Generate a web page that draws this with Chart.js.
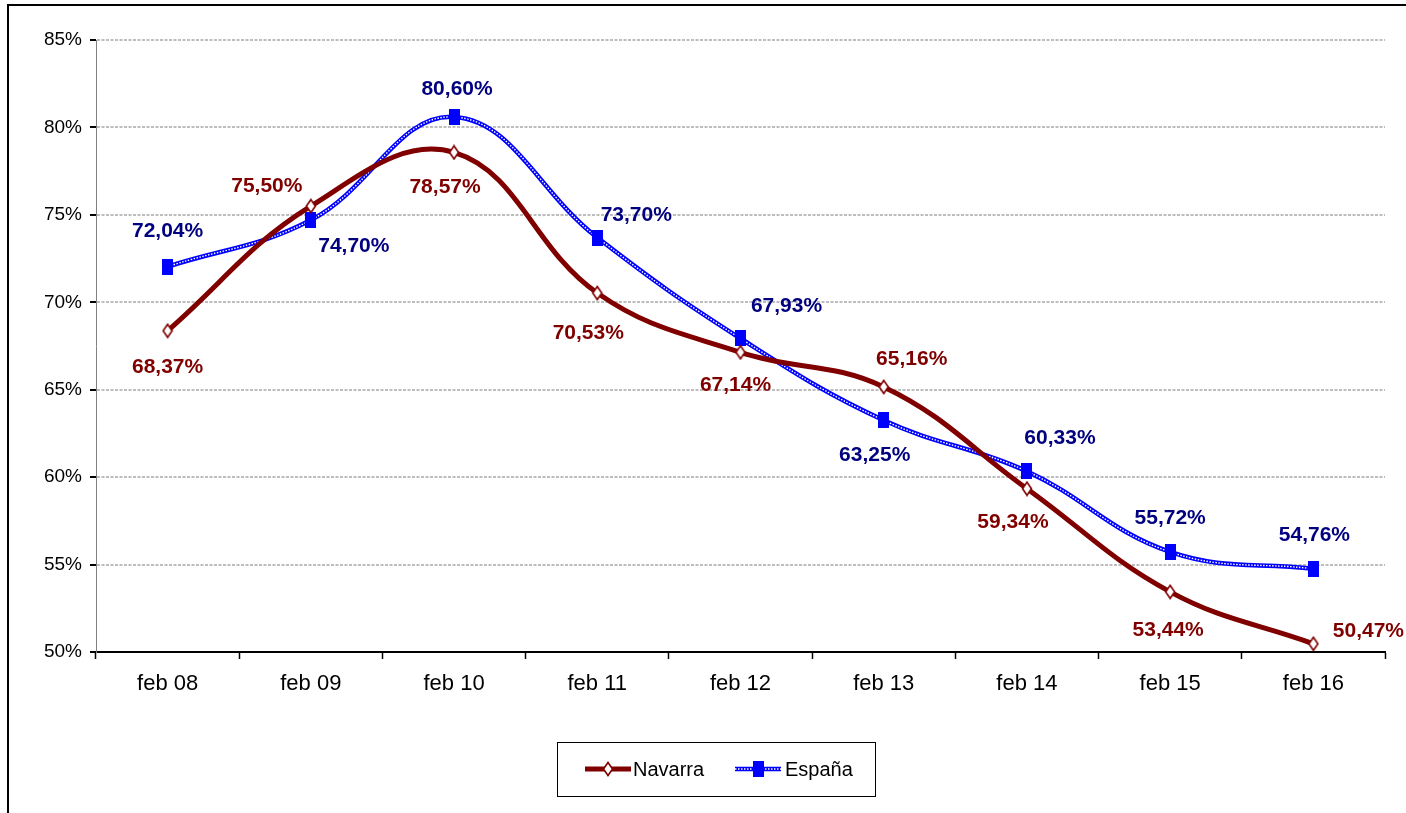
<!DOCTYPE html>
<html>
<head>
<meta charset="utf-8">
<script src="https://cdn.jsdelivr.net/npm/chart.js@4.4.1/dist/chart.umd.min.js"></script>
<style>
  html, body { margin: 0; padding: 0; background: #fff; }
</style>
</head>
<body>
<canvas id="chart" width="1406" height="813"></canvas>
<script>
const categories = ['feb 08', 'feb 09', 'feb 10', 'feb 11', 'feb 12', 'feb 13', 'feb 14', 'feb 15', 'feb 16'];
const navarra = [68.37, 75.50, 78.57, 70.53, 67.14, 65.16, 59.34, 53.44, 50.47];
const espana = [72.04, 74.70, 80.60, 73.70, 67.93, 63.25, 60.33, 55.72, 54.76];
const yTicks = [50, 55, 60, 65, 70, 75, 80, 85];

// where each value label sits relative to its point (px)
const navarraLabelPos = [[0, 36], [-44, -20], [-9, 35], [-9, 40], [-5, 33], [28, -28], [-14, 34], [-2, 38], [55, -13]];
const espanaLabelPos = [[0, -35], [43, 26], [3, -28], [39, -22], [46, -32], [-9, 35], [33, -33], [0, -34], [1, -34]];

const RED = '#800000';
const BLUE = '#0000ff';
const NAVY = '#000080';
const SANS = '"Liberation Sans", Arial, sans-serif';

function makeMarker(w, h, draw) {
  const c = document.createElement('canvas');
  c.width = w; c.height = h;
  draw(c.getContext('2d'), w, h);
  return c;
}

const diamond = makeMarker(12, 16, (g, w, h) => {
  g.beginPath();
  g.moveTo(w / 2, 1.5); g.lineTo(w - 1.5, h / 2); g.lineTo(w / 2, h - 1.5); g.lineTo(1.5, h / 2);
  g.closePath();
  g.fillStyle = '#fff'; g.fill();
  g.lineWidth = 1.6; g.strokeStyle = RED; g.stroke();
});
const square = makeMarker(11, 16, (g, w, h) => {
  g.fillStyle = BLUE; g.fillRect(0, 0, w, h);
});

const fmt = (v) => v.toFixed(2).replace('.', ',') + '%';

const framePlugin = {
  id: 'frame',
  beforeDraw(chart) {
    const ctx = chart.ctx;
    ctx.save();
    ctx.fillStyle = '#fff';
    ctx.fillRect(0, 0, chart.width, chart.height);
    ctx.strokeStyle = '#000';
    ctx.lineWidth = 2;
    ctx.beginPath();
    ctx.moveTo(8, chart.height);
    ctx.lineTo(8, 5);
    ctx.lineTo(chart.width, 5);
    ctx.stroke();
    ctx.restore();
  }
};

// white dotted core on the blue line, then markers back on top
const dottedPlugin = {
  id: 'dotted',
  afterDatasetDraw(chart, args) {
    if (args.index !== 1) return;
    const ctx = chart.ctx;
    const meta = args.meta;
    ctx.save();
    ctx.beginPath();
    meta.dataset.path(ctx);
    ctx.strokeStyle = '#fff';
    ctx.lineWidth = 1.4;
    ctx.setLineDash([1.5, 1.5]);
    ctx.stroke();
    ctx.restore();
    meta.data.forEach((p) => p.draw(ctx, chart.chartArea));
  }
};

const labelPlugin = {
  id: 'valueLabels',
  afterDatasetsDraw(chart) {
    const ctx = chart.ctx;
    const sets = [
      { meta: chart.getDatasetMeta(0), values: navarra, pos: navarraLabelPos, color: RED },
      { meta: chart.getDatasetMeta(1), values: espana, pos: espanaLabelPos, color: NAVY }
    ];
    ctx.save();
    ctx.font = 'bold 21px ' + SANS;
    ctx.textAlign = 'center';
    ctx.textBaseline = 'middle';
    sets.forEach((s) => {
      ctx.fillStyle = s.color;
      s.meta.data.forEach((p, i) => {
        ctx.fillText(fmt(s.values[i]), p.x + s.pos[i][0], p.y + s.pos[i][1]);
      });
    });
    ctx.restore();
  }
};

const legendPlugin = {
  id: 'boxLegend',
  afterDraw(chart) {
    const ctx = chart.ctx;
    const ds = chart.data.datasets;
    const y = 769;
    ctx.save();
    ctx.strokeStyle = '#000';
    ctx.lineWidth = 1;
    ctx.strokeRect(557.5, 742.5, 318, 54);

    // Navarra sample
    ctx.strokeStyle = RED; ctx.lineWidth = 5;
    ctx.beginPath(); ctx.moveTo(585, y); ctx.lineTo(631, y); ctx.stroke();
    ctx.drawImage(diamond, 608 - diamond.width / 2, y - diamond.height / 2);

    // España sample
    ctx.strokeStyle = BLUE; ctx.lineWidth = 4.5;
    ctx.beginPath(); ctx.moveTo(735, y); ctx.lineTo(781, y); ctx.stroke();
    ctx.strokeStyle = '#fff'; ctx.lineWidth = 1.4; ctx.setLineDash([1.5, 1.5]);
    ctx.beginPath(); ctx.moveTo(735, y); ctx.lineTo(781, y); ctx.stroke();
    ctx.setLineDash([]);
    ctx.drawImage(square, 758 - square.width / 2, y - square.height / 2);

    ctx.fillStyle = '#000';
    ctx.font = '20px ' + SANS;
    ctx.textAlign = 'left';
    ctx.textBaseline = 'middle';
    ctx.fillText(ds[0].label, 633, y + 1);
    ctx.fillText(ds[1].label, 785, y + 1);
    ctx.restore();
  }
};

new Chart(document.getElementById('chart'), {
  type: 'line',
  data: {
    labels: categories,
    datasets: [{
      label: 'Navarra',
      data: navarra,
      borderColor: RED,
      borderWidth: 5,
      tension: 0.4,
      pointStyle: diamond,
      order: 0
    }, {
      label: 'España',
      data: espana,
      borderColor: BLUE,
      borderWidth: 4.5,
      tension: 0.4,
      pointStyle: square,
      order: 1
    }]
  },
  options: {
    responsive: false,
    animation: false,
    layout: { padding: { left: 0, top: 40, right: 21, bottom: 113 } },
    plugins: {
      legend: { display: false },
      tooltip: { enabled: false }
    },
    scales: {
      x: {
        offset: true,
        grid: {
          offset: true,
          drawOnChartArea: false,
          tickLength: 7,
          tickColor: '#000',
          tickWidth: 1.5
        },
        border: { color: '#000', width: 2 },
        ticks: {
          color: '#000',
          padding: 12,
          font: { family: SANS, size: 22 }
        },
        afterFit: (s) => { s.height = 48; }
      },
      y: {
        min: 50,
        max: 85,
        afterBuildTicks: (s) => { s.ticks = yTicks.map((v) => ({ value: v })); },
        grid: {
          color: (c) => (c.tick && c.tick.value === 50 ? 'rgba(0,0,0,0)' : '#bdbdbd'),
          lineWidth: 2,
          tickColor: '#000',
          tickWidth: 2,
          tickLength: 6
        },
        border: { color: '#808080', width: 1, dash: [3, 1.5] },
        ticks: {
          color: '#000',
          padding: 8,
          font: { family: SANS, size: 19 },
          callback: (v) => v + '%'
        },
        afterFit: (s) => { s.width = 96; }
      }
    }
  },
  plugins: [framePlugin, dottedPlugin, labelPlugin, legendPlugin]
});
</script>
</body>
</html>
